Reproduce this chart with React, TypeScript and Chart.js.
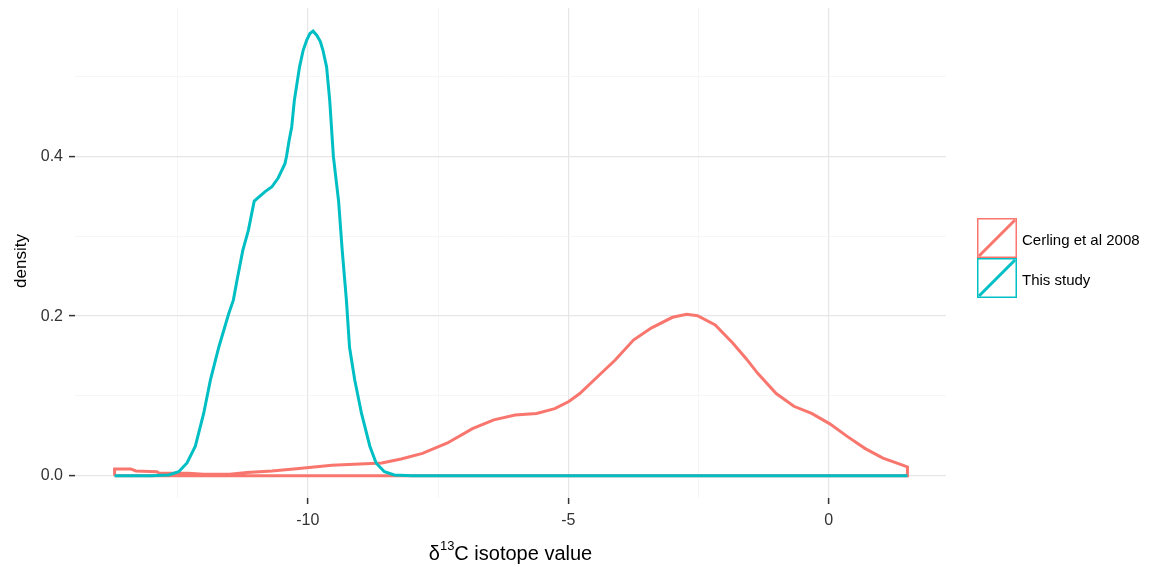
import React, { useEffect, useRef } from "react";
import { Chart, registerables } from "chart.js";
Chart.register(...registerables);

const seriesNames = ["Cerling et al 2008", "This study"];
const seriesColors = ["#F8766D", "#00BFC4"];

const cerlingX = [-13.71, -13.71, -13.4, -13.3, -12.9, -12.85, -12.3, -12.0, -11.5, -11.17, -10.69, -10.17, -9.54, -8.58, -8.21, -7.8, -7.32, -6.84, -6.43, -6.02, -5.61, -5.26, -4.99, -4.78, -4.44, -4.1, -3.75, -3.41, -3.0, -2.73, -2.52, -2.18, -1.84, -1.59, -1.36, -1.01, -0.67, -0.33, 0.02, 0.36, 0.7, 1.04, 1.39, 1.51, 1.51, -13.71];
const cerlingY = [0, 0.0085, 0.0085, 0.006, 0.005, 0.003, 0.003, 0.002, 0.002, 0.004, 0.006, 0.009, 0.013, 0.016, 0.021, 0.028, 0.041, 0.059, 0.07, 0.076, 0.078, 0.084, 0.093, 0.103, 0.124, 0.145, 0.17, 0.185, 0.1985, 0.2022, 0.2005, 0.189, 0.166, 0.147, 0.128, 0.103, 0.087, 0.078, 0.065, 0.049, 0.034, 0.022, 0.014, 0.011, 0, 0];

const studyX = [-13.71, -13.0, -12.8, -12.67, -12.48, -12.32, -12.16, -12.0, -11.87, -11.71, -11.52, -11.43, -11.36, -11.25, -11.14, -11.03, -10.82, -10.69, -10.57, -10.44, -10.41, -10.36, -10.31, -10.26, -10.16, -10.09, -10.02, -9.96, -9.9, -9.83, -9.76, -9.71, -9.64, -9.58, -9.51, -9.41, -9.34, -9.26, -9.2, -9.1, -8.97, -8.81, -8.69, -8.53, -8.34, -8.0, 1.51];
const studyY = [0, 0, 0.0005, 0.001, 0.005, 0.016, 0.037, 0.078, 0.12, 0.161, 0.203, 0.22, 0.245, 0.282, 0.308, 0.344, 0.356, 0.362, 0.373, 0.391, 0.4, 0.42, 0.437, 0.47, 0.512, 0.533, 0.546, 0.554, 0.557, 0.552, 0.544, 0.533, 0.512, 0.47, 0.4, 0.344, 0.282, 0.22, 0.161, 0.12, 0.078, 0.037, 0.016, 0.005, 0.001, 0, 0];

const xMajorTicks = [-10, -5, 0];
const xMinorTicks = [-12.5, -7.5, -2.5];
const yMajorTicks = [0, 0.2, 0.4];
const yMinorTicks = [0.1, 0.3, 0.5];
const yTitle = "density";
const xTitleParts = ["δ", "13", "C isotope value"];

const FONT = "'Liberation Sans', Arial, sans-serif";

const isMajor = (list: number[], v: number) => list.some((m) => Math.abs(m - v) < 1e-9);

const overlayPlugin = {
  id: "overlay",
  afterDraw(chart: any) {
    const ctx = chart.ctx as CanvasRenderingContext2D;
    const area = chart.chartArea;
    ctx.save();
    // y title
    ctx.fillStyle = "#000";
    ctx.font = `17px ${FONT}`;
    ctx.textAlign = "center";
    ctx.textBaseline = "middle";
    ctx.translate(21, (area.top + area.bottom) / 2 + 8);
    ctx.rotate(-Math.PI / 2);
    ctx.fillText(yTitle, 0, 0);
    ctx.setTransform(1, 0, 0, 1, 0, 0);
    // x title with superscript
    const big = `20px ${FONT}`;
    const small = `13px ${FONT}`;
    ctx.font = big;
    const w0 = ctx.measureText(xTitleParts[0]).width;
    const w2 = ctx.measureText(xTitleParts[2]).width;
    ctx.font = small;
    const w1 = ctx.measureText(xTitleParts[1]).width;
    const total = w0 + w1 + w2;
    let x = (area.left + area.right) / 2 - total / 2;
    const base = 560;
    ctx.textAlign = "left";
    ctx.textBaseline = "alphabetic";
    ctx.font = big;
    ctx.fillText(xTitleParts[0], x, base);
    x += w0;
    ctx.font = small;
    ctx.fillText(xTitleParts[1], x, base - 10);
    x += w1;
    ctx.font = big;
    ctx.fillText(xTitleParts[2], x, base);
    // legend
    const lx = 977;
    const ly = 218;
    const size = 40;
    seriesNames.forEach((name, i) => {
      const top = ly + i * size;
      ctx.strokeStyle = seriesColors[i];
      ctx.lineWidth = 1.5;
      ctx.strokeRect(lx + 0.75, top + 0.75, size - 1.5, size - 1.5);
      ctx.lineWidth = 3;
      ctx.beginPath();
      ctx.moveTo(lx + 2, top + size - 2);
      ctx.lineTo(lx + size - 2, top + 2);
      ctx.stroke();
      ctx.fillStyle = "#000";
      ctx.font = `15px ${FONT}`;
      ctx.textBaseline = "middle";
      ctx.fillText(name, lx + size + 5, top + size / 2 + 3);
    });
    ctx.restore();
  },
};

export default function App() {
  const canvasRef = useRef<HTMLCanvasElement | null>(null);

  useEffect(() => {
    const canvas = canvasRef.current;
    if (!canvas) return;
    const chart = new Chart(canvas, {
      type: "scatter",
      data: {
        datasets: [
          {
            label: seriesNames[0],
            data: cerlingX.map((x, i) => ({ x, y: cerlingY[i] })),
            showLine: true,
            borderColor: seriesColors[0],
            backgroundColor: seriesColors[0],
            borderWidth: 3,
            pointRadius: 0,
            tension: 0,
            order: 2,
          },
          {
            label: seriesNames[1],
            data: studyX.map((x, i) => ({ x, y: studyY[i] })),
            showLine: true,
            borderColor: seriesColors[1],
            backgroundColor: seriesColors[1],
            borderWidth: 3,
            pointRadius: 0,
            tension: 0,
            order: 1,
          },
        ],
      },
      options: {
        animation: false,
        responsive: false,
        devicePixelRatio: 1,
        layout: { padding: { left: 0, right: 230, top: 8, bottom: 0 } },
        plugins: { legend: { display: false }, tooltip: { enabled: false } },
        scales: {
          x: {
            type: "linear",
            min: -14.47,
            max: 2.25,
            afterBuildTicks: (s: any) => {
              s.ticks = [...xMinorTicks, ...xMajorTicks].sort((a, b) => a - b).map((v) => ({ value: v }));
            },
            afterFit: (s: any) => {
              s.height = 69;
              s.paddingLeft = 0;
              s.paddingRight = 0;
            },
            ticks: {
              autoSkip: false,
              maxRotation: 0,
              padding: 7,
              color: "#333",
              font: { family: FONT, size: 16 },
              callback: (v: any) => (isMajor(xMajorTicks, Number(v)) ? String(v) : ""),
            },
            grid: {
              color: (c: any) => (c.tick && isMajor(xMajorTicks, c.tick.value) ? "#E6E6E6" : "#F4F4F4"),
              lineWidth: (c: any) => (c.tick && isMajor(xMajorTicks, c.tick.value) ? 1.2 : 0.8),
              tickColor: (c: any) => (c.tick && isMajor(xMajorTicks, c.tick.value) ? "#333" : "rgba(0,0,0,0)"),
              tickLength: 6,
              tickWidth: 1.5,
            },
            border: { display: false },
          },
          y: {
            type: "linear",
            min: -0.0279,
            max: 0.586,
            afterBuildTicks: (s: any) => {
              s.ticks = [...yMinorTicks, ...yMajorTicks].sort((a, b) => a - b).map((v) => ({ value: v }));
            },
            afterFit: (s: any) => {
              s.width = 75;
              s.paddingTop = 0;
              s.paddingBottom = 0;
            },
            ticks: {
              autoSkip: false,
              padding: 6,
              color: "#333",
              font: { family: FONT, size: 16 },
              callback: (v: any) => (isMajor(yMajorTicks, Number(v)) ? Number(v).toFixed(1) : ""),
            },
            grid: {
              color: (c: any) => (c.tick && isMajor(yMajorTicks, c.tick.value) ? "#E6E6E6" : "#F4F4F4"),
              lineWidth: (c: any) => (c.tick && isMajor(yMajorTicks, c.tick.value) ? 1.2 : 0.8),
              tickColor: (c: any) => (c.tick && isMajor(yMajorTicks, c.tick.value) ? "#333" : "rgba(0,0,0,0)"),
              tickLength: 6,
              tickWidth: 1.5,
            },
            border: { display: false },
          },
        },
      },
      plugins: [overlayPlugin],
    } as any);
    return () => chart.destroy();
  }, []);

  return (
    <div style={{ position: "absolute", left: 0, top: 0, width: 1176, height: 567, background: "#fff" }}>
      <canvas ref={canvasRef} width={1176} height={567} style={{ display: "block" }} />
    </div>
  );
}
